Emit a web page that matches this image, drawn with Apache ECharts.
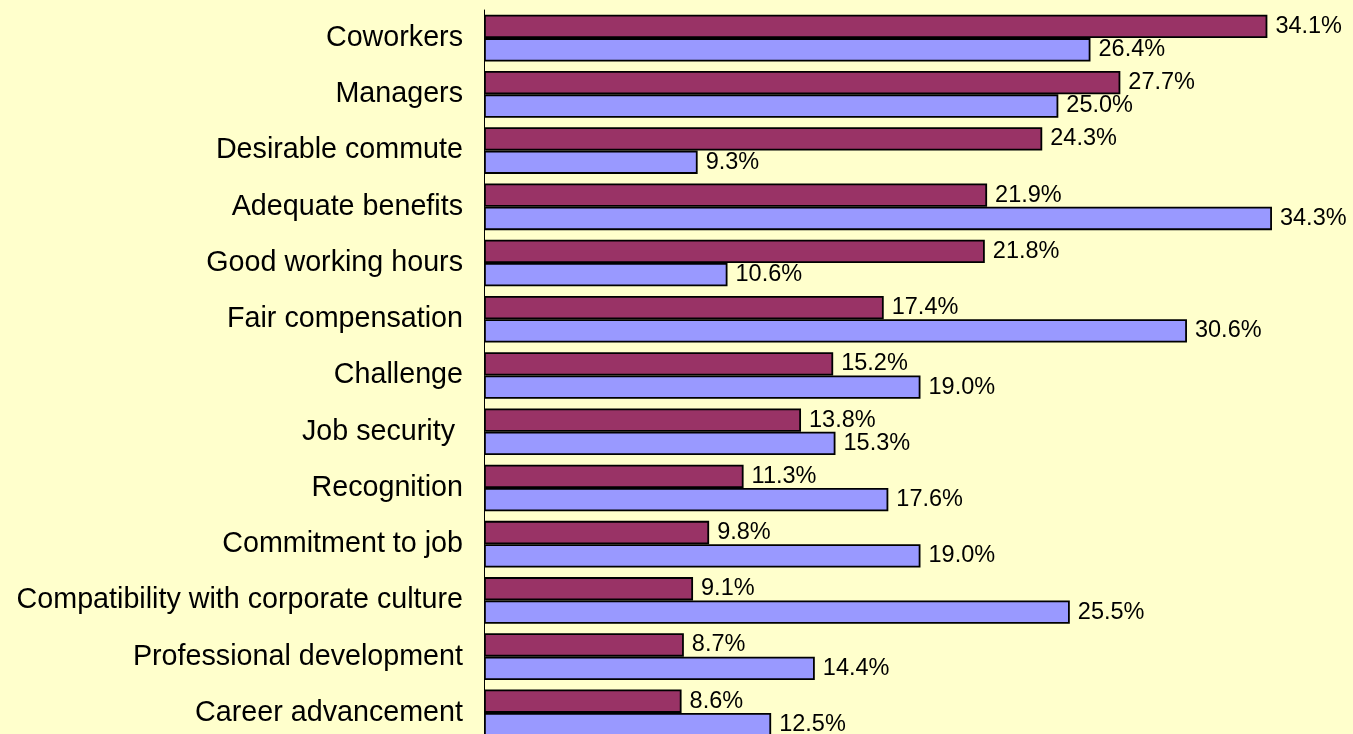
<!DOCTYPE html>
<html>
<head>
<meta charset="utf-8">
<script src="https://cdn.jsdelivr.net/npm/echarts@6/dist/echarts.min.js"></script>
<style>
  html, body { margin: 0; padding: 0; background: #ffffcc; overflow: hidden; }
  /* taller than the window: the plot runs past the bottom edge, as in the original */
  #chart { width: 1353px; height: 745px; }
</style>
</head>
<body>
<div id="chart"></div>
<script>
// categories, top to bottom
const categories = [
  'Coworkers', 'Managers', 'Desirable commute', 'Adequate benefits',
  'Good working hours', 'Fair compensation', 'Challenge', 'Job security ',
  'Recognition', 'Commitment to job', 'Compatibility with corporate culture',
  'Professional development', 'Career advancement'
]
// upper (maroon) bars
const seriesA = [34.1, 27.7, 24.3, 21.9, 21.8, 17.4, 15.2, 13.8, 11.3, 9.8, 9.1, 8.7, 8.6]
// lower (blue) bars
const seriesB = [26.4, 25.0, 9.3, 34.3, 10.6, 30.6, 19.0, 15.3, 17.6, 19.0, 25.5, 14.4, 12.5]

const labelStyle = {
  show: true,
  position: 'right',
  distance: 8,
  color: '#000',
  fontFamily: 'Liberation Sans, Arial, sans-serif',
  fontSize: 23.5,
  formatter: p => p.value.toFixed(1) + '%'
}

const chart = echarts.init(document.getElementById('chart'))
chart.setOption({
  backgroundColor: '#ffffcc',
  animation: false,
  grid: { left: 484, width: 850, top: 10, height: 731, containLabel: false },
  xAxis: {
    type: 'value',
    min: 0,
    max: 37,
    show: false
  },
  yAxis: {
    type: 'category',
    inverse: true,
    data: categories,
    axisLine: { show: true, lineStyle: { color: '#000', width: 1 } },
    axisTick: { show: false },
    axisLabel: {
      color: '#000',
      fontFamily: 'Liberation Sans, Arial, sans-serif',
      fontSize: 28.7,
      margin: 21
    }
  },
  series: [
    {
      type: 'bar',
      data: seriesA,
      barGap: '0%',
      barCategoryGap: '17%',
      itemStyle: { color: '#993366', borderColor: '#000', borderWidth: 1.8 },
      label: labelStyle
    },
    {
      type: 'bar',
      data: seriesB,
      barGap: '0%',
      barCategoryGap: '17%',
      itemStyle: { color: '#9999ff', borderColor: '#000', borderWidth: 1.8 },
      label: labelStyle
    }
  ]
})
</script>
</body>
</html>
